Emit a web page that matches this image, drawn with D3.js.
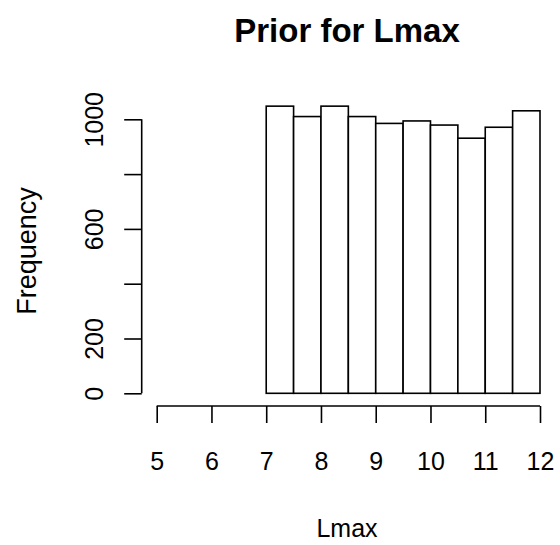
<!DOCTYPE html>
<html>
<head>
<meta charset="utf-8">
<script src="https://cdn.jsdelivr.net/npm/d3@7"></script>
<style>
  html, body { margin: 0; padding: 0; background: #fff; }
  svg { display: block; }
  text { font-family: "Liberation Sans", Arial, sans-serif; fill: #000; }
</style>
</head>
<body>
<svg id="chart" width="560" height="545"></svg>
<script>
// Histogram bins (break points) and counts
const binEdges = [7, 7.5, 8, 8.5, 9, 9.5, 10, 10.5, 11, 11.5, 12];
const counts = [1048, 1010, 1048, 1010, 985, 994, 979, 931, 971, 1031];
const xTicks = [5, 6, 7, 8, 9, 10, 11, 12];
const yTicks = [0, 200, 400, 600, 800, 1000];
const yTickLabels = ["0", "200", "", "600", "", "1000"];
const title = "Prior for Lmax";
const xTitle = "Lmax";
const yTitle = "Frequency";

const svg = d3.select("#chart");

const x = d3.scaleLinear().domain([5, 12]).range([156.7, 540]);
const y = d3.scaleLinear().domain([0, 1000]).range([393.3, 119.3]);

const bins = counts.map((c, i) => ({ x0: binEdges[i], x1: binEdges[i + 1], n: c }));

// Bars
svg.append("g")
  .selectAll("rect")
  .data(bins)
  .join("rect")
  .attr("x", d => x(d.x0))
  .attr("y", d => y(d.n))
  .attr("width", d => x(d.x1) - x(d.x0))
  .attr("height", d => y(0) - y(d.n))
  .attr("fill", "#fff")
  .attr("stroke", "#000")
  .attr("stroke-width", 1.6);

// X axis
const xAxis = d3.axisBottom(x)
  .tickValues(xTicks)
  .tickFormat(d3.format("d"))
  .tickSize(17)
  .tickPadding(29)
  .tickSizeOuter(0);
const gx = svg.append("g").attr("transform", "translate(0,406)").call(xAxis);
gx.select(".domain").attr("d", `M${x(5)},0H${x(12)}`);
gx.selectAll("path, line").attr("stroke", "#000").attr("stroke-width", 1.6);
gx.selectAll("text").attr("font-size", 25).attr("font-family", "Liberation Sans, Arial, sans-serif");

// Y axis
const yAxis = d3.axisLeft(y)
  .tickValues(yTicks)
  .tickFormat((d, i) => yTickLabels[i])
  .tickSize(17.5)
  .tickPadding(0)
  .tickSizeOuter(0);
const gy = svg.append("g").attr("transform", "translate(141.7,0)").call(yAxis);
gy.select(".domain").attr("d", `M0,${y(0)}V${y(1000)}`);
gy.selectAll("path, line").attr("stroke", "#000").attr("stroke-width", 1.6);
gy.selectAll("text")
  .attr("font-size", 25)
  .attr("font-family", "Liberation Sans, Arial, sans-serif")
  .attr("text-anchor", "middle")
  .attr("dy", null)
  .attr("x", null)
  .attr("transform", "translate(-38.5,0) rotate(-90)");

// Titles
svg.append("text")
  .attr("x", 347).attr("y", 42)
  .attr("text-anchor", "middle")
  .attr("font-size", 33)
  .attr("font-weight", "bold")
  .text(title);

svg.append("text")
  .attr("x", 347).attr("y", 537)
  .attr("text-anchor", "middle")
  .attr("font-size", 25)
  .text(xTitle);

svg.append("text")
  .attr("transform", "translate(36,251) rotate(-90)")
  .attr("text-anchor", "middle")
  .attr("font-size", 27)
  .text(yTitle);
</script>
</body>
</html>
